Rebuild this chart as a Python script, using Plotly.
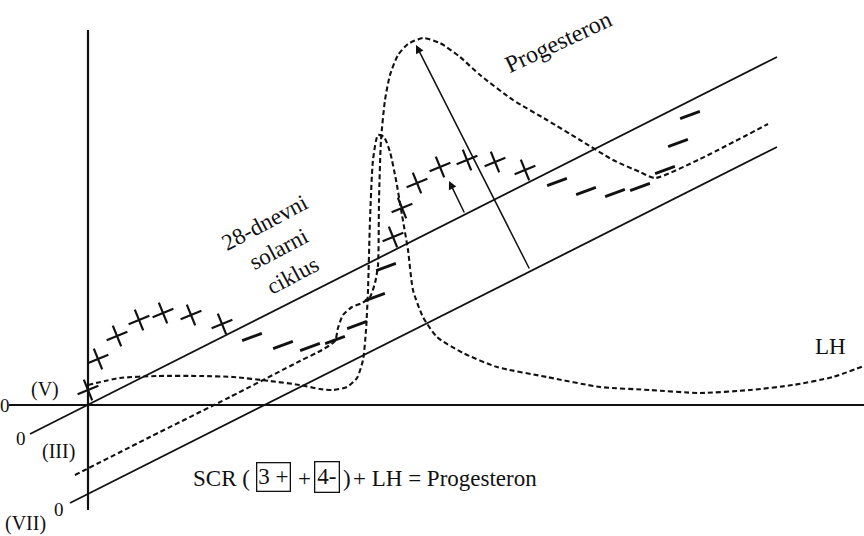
import plotly.graph_objects as go

# ---- data (diagram coordinates: x to the right, y downward) ----
axis_v_x = [88, 88]
axis_v_y = [30, 510]
axis_h_x = [9, 864]
axis_h_y = [405, 405]

line_v_x = [30, 777]          # upper solid line "(V)" 28-dnevni solarni ciklus
line_v_y = [434, 57]
line_vii_x = [70, 777]        # lower solid line "(VII)"
line_vii_y = [503, 147]

lh_x = [88, 120, 157, 200, 233, 270, 300, 320, 333, 347, 357, 363, 366, 368, 370, 373, 378,
        384, 390, 396, 402, 408, 413, 423, 437, 463, 497, 547, 600, 650, 700, 750, 793, 833, 864]
lh_y = [385, 378, 376, 376, 377, 381, 385, 389, 390, 387, 378, 360, 330, 290, 220, 160, 135,
        137, 152, 180, 215, 250, 290, 317, 337, 353, 367, 377, 387, 390, 393, 390, 385, 377, 366]

prog_x = [75, 150, 230, 300, 322, 335, 338, 343, 352, 362, 370, 375, 378, 379, 381, 385, 390,
          398, 408, 423, 440, 460, 480, 513, 547, 580, 613, 640, 655, 700, 768]
prog_y = [475, 437, 397, 361, 350, 341, 328, 315, 307, 303, 297, 283, 265, 200, 140, 100, 75,
          55, 44, 38, 43, 57, 75, 100, 120, 140, 160, 172, 178, 159, 124]

plus_x = [88, 98, 117, 139, 163, 191, 222, 393, 402, 417, 440, 467, 495, 525]
plus_y = [390, 359, 336, 320, 313, 315, 324, 237, 208, 183, 167, 160, 162, 170]

minus_x = [252, 283, 310, 335, 357, 375, 386, 557, 586, 615, 640, 665, 678, 690]
minus_y = [337, 345, 347, 340, 325, 297, 267, 182, 191, 193, 187, 170, 143, 115]

arrow_long = [530, 270, 416, 45]   # base x, base y, tip x, tip y
arrow_short = [465, 214, 449, 181]

FONT = "Liberation Serif"
INK = "#111111"

fig = go.Figure()

def solid(xs, ys, w=1.8):
    fig.add_trace(go.Scatter(x=xs, y=ys, mode="lines",
                             line=dict(color=INK, width=w), hoverinfo="skip"))

solid(axis_v_x, axis_v_y, 2.2)
solid(axis_h_x, axis_h_y, 2.2)
solid(line_v_x, line_v_y)
solid(line_vii_x, line_vii_y)

fig.add_trace(go.Scatter(x=lh_x, y=lh_y, mode="lines",
                         line=dict(color=INK, width=2.1, dash="5px,3px", shape="spline", smoothing=0.6),
                         hoverinfo="skip"))
fig.add_trace(go.Scatter(x=prog_x, y=prog_y, mode="lines",
                         line=dict(color=INK, width=2.1, dash="5px,3px", shape="spline", smoothing=0.6),
                         hoverinfo="skip"))

fig.add_trace(go.Scatter(x=plus_x, y=plus_y, mode="markers",
                         marker=dict(symbol="cross-thin", size=16, angle=-22,
                                     line=dict(color=INK, width=2.2)),
                         hoverinfo="skip"))
fig.add_trace(go.Scatter(x=minus_x, y=minus_y, mode="markers",
                         marker=dict(symbol="line-ew", size=15, angle=-20,
                                     line=dict(color=INK, width=2.8)),
                         hoverinfo="skip"))

anns = []
for a in (arrow_long, arrow_short):
    anns.append(dict(x=a[2], y=a[3], ax=a[0], ay=a[1], xref="x", yref="y",
                     axref="x", ayref="y", text="", showarrow=True,
                     arrowhead=2, arrowsize=1.1, arrowwidth=1.5, arrowcolor=INK))

def label(x, y, t, size=20, angle=0, xanchor="center", **kw):
    anns.append(dict(x=x, y=y, xref="x", yref="y", text=t, showarrow=False,
                     textangle=angle, xanchor=xanchor, yanchor="middle",
                     font=dict(family=FONT, size=size, color=INK), **kw))

label(5, 405, "0", 19)
label(45, 389, "(V)", 20)
label(21, 438, "0", 19)
label(58, 451, "(III)", 20)
label(59, 509, "0", 19)
label(25, 523, "(VII)", 20)
label(830, 346, "LH", 23)
label(558, 42, "Progesteron", 24, angle=-25)
label(278, 249, "28-dnevni<br>solarni<br>ciklus", 23, angle=-28)

label(191, 478, "SCR (", 23, xanchor="left")
label(273, 477, "3 +", 23, bordercolor=INK, borderwidth=1.3, borderpad=1)
label(304, 478, "+", 23)
label(327, 477, "4-", 23, bordercolor=INK, borderwidth=1.3, borderpad=2)
label(341, 478, ")", 23, xanchor="left")
label(351, 478, "+ LH = Progesteron", 23, xanchor="left")

fig.update_layout(
    width=864, height=536,
    margin=dict(l=0, r=0, t=0, b=0),
    paper_bgcolor="white", plot_bgcolor="white",
    showlegend=False,
    annotations=anns,
    xaxis=dict(range=[0, 864], visible=False, fixedrange=True),
    yaxis=dict(range=[536, 0], visible=False, fixedrange=True),
)

fig.write_html("out.html", config={"displayModeBar": False},
               post_script="document.body.style.margin='0';document.body.style.overflow='hidden';")
